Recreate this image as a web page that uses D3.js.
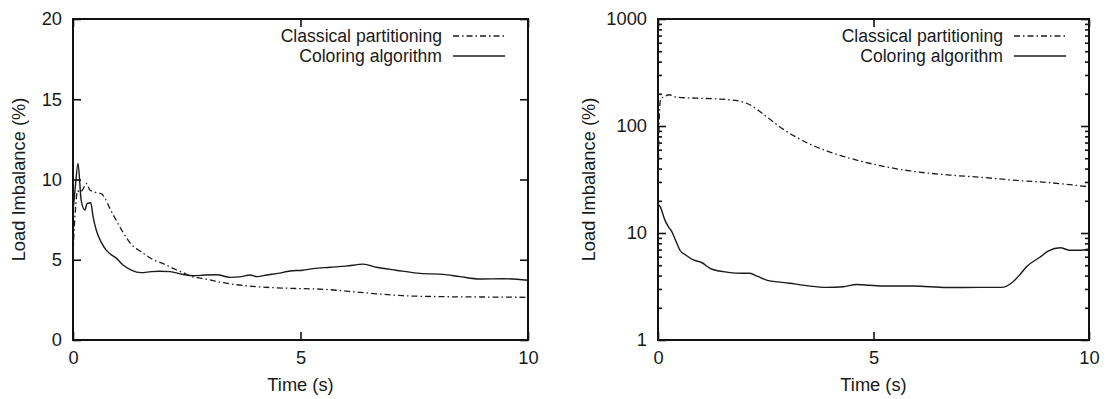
<!DOCTYPE html>
<html>
<head>
<meta charset="utf-8">
<script src="https://cdn.jsdelivr.net/npm/d3@7"></script>
<style>
  html, body { margin: 0; padding: 0; background: #fff; }
  svg { display: block; }
  text { font-family: "Liberation Sans", Arial, Helvetica, sans-serif; fill: #1a1a1a; }
</style>
</head>
<body>
<svg id="chart" width="1107" height="399"></svg>
<script>
// Left panel: linear load imbalance (%) over time (s)
const leftColoringTime = [0, 0.05, 0.11, 0.18, 0.26, 0.31, 0.39, 0.44, 0.51, 0.62, 0.73, 0.8, 0.95, 1.1, 1.28, 1.5, 1.72, 1.9, 2.13, 2.4, 2.64, 2.9, 3.16, 3.45, 3.7, 3.89, 4.05, 4.26, 4.5, 4.77, 5.05, 5.28, 5.65, 6.0, 6.38, 6.67, 7.1, 7.63, 8.14, 8.5, 8.95, 9.46, 10];
const leftColoring     = [8.0, 9.5, 11.0, 8.7, 8.1, 8.5, 8.55, 7.7, 6.85, 6.1, 5.6, 5.4, 5.1, 4.67, 4.36, 4.2, 4.26, 4.28, 4.26, 4.1, 4.0, 4.05, 4.07, 3.9, 3.95, 4.05, 3.95, 4.05, 4.15, 4.3, 4.35, 4.45, 4.53, 4.6, 4.73, 4.53, 4.35, 4.15, 4.09, 3.95, 3.8, 3.82, 3.72];
const leftClassicalTime = [0, 0.05, 0.1, 0.15, 0.22, 0.29, 0.37, 0.5, 0.63, 0.7, 0.81, 0.96, 1.08, 1.18, 1.3, 1.47, 1.65, 1.76, 1.9, 2.1, 2.28, 2.42, 2.57, 2.8, 3.01, 3.25, 3.52, 4.04, 4.77, 5.5, 6.38, 7.26, 8.14, 9.0, 10];
const leftClassical     = [5.4, 8.0, 9.3, 9.2, 9.4, 9.76, 9.35, 9.2, 9.1, 8.85, 8.2, 7.4, 6.8, 6.35, 5.9, 5.55, 5.2, 5.0, 4.85, 4.6, 4.36, 4.2, 4.0, 3.85, 3.74, 3.6, 3.47, 3.32, 3.22, 3.16, 2.95, 2.76, 2.7, 2.68, 2.66];

// Right panel: logarithmic load imbalance (%) over time (s)
const rightColoringTime = [0, 0.05, 0.16, 0.25, 0.32, 0.41, 0.51, 0.65, 0.82, 1.01, 1.21, 1.52, 1.8, 2.13, 2.3, 2.52, 3.06, 3.45, 3.91, 4.3, 4.61, 4.9, 5.15, 5.92, 6.7, 7.47, 7.97, 8.21, 8.4, 8.55, 8.86, 9.06, 9.33, 9.56, 9.79, 10];
const rightColoring     = [18.5, 17.6, 13.2, 11.3, 10.3, 8.5, 6.9, 6.2, 5.6, 5.3, 4.68, 4.35, 4.22, 4.2, 3.95, 3.63, 3.39, 3.22, 3.1, 3.15, 3.3, 3.25, 3.2, 3.2, 3.09, 3.1, 3.1, 3.43, 4.1, 4.84, 5.93, 6.79, 7.28, 6.9, 6.9, 7.1];
const rightClassicalTime = [0, 0.03, 0.06, 0.15, 0.26, 0.43, 0.9, 1.36, 1.86, 2.13, 2.52, 2.91, 3.45, 3.99, 4.61, 5.23, 5.85, 6.77, 7.55, 8.32, 9.1, 10];
const rightClassical     = [20, 120, 178, 188, 196, 186, 182, 179, 172, 158, 122, 93, 70, 57, 48, 42, 38, 34.8, 33, 31, 29.5, 27];

// Axis ticks and legend labels
const timeTicks = [0, 5, 10];
const linearTicks = [0, 5, 10, 15, 20];
const logMajorTicks = [1, 10, 100, 1000];
const logMinorFactors = [2, 3, 4, 5, 6, 7, 8, 9];
const seriesNames = ["Classical partitioning", "Coloring algorithm"];
const xLabel = "Time (s)";
const yLabel = "Load Imbalance (%)";

const svg = d3.select("#chart");
const plotTop = 19, plotBottom = 340;
const dashStyle = "6,3,1.5,3";
const fontSize = "18.3px";
const legendFontSize = "17.6px";

function zip(ts, vs) { return ts.map((t, i) => [t, vs[i]]); }

function drawPanel(opts) {
  const { left, right, yScale, yTicks, minorTicks, labelX, classical, coloring, id } = opts;
  const x = d3.scaleLinear().domain([0, 10]).range([left, right]);
  const y = yScale.range([plotBottom, plotTop]);
  const g = svg.append("g");

  g.append("clipPath").attr("id", id).append("rect")
    .attr("x", left).attr("y", plotTop).attr("width", right - left).attr("height", plotBottom - plotTop);

  const fmt = d3.format("d");

  const yAxisL = d3.axisLeft(y).tickValues(yTicks).tickSize(-8).tickPadding(11).tickFormat(fmt);
  const yAxisR = d3.axisRight(y).tickValues(yTicks).tickSize(-8).tickFormat("");
  const xAxisB = d3.axisBottom(x).tickValues(timeTicks).tickSize(-8).tickPadding(11).tickFormat(fmt);
  const xAxisT = d3.axisTop(x).tickValues(timeTicks).tickSize(-8).tickFormat("");

  const styleAxis = sel => {
    sel.select(".domain").remove();
    sel.selectAll(".tick line").attr("stroke", "#111").attr("stroke-width", 1.6);
    sel.selectAll(".tick text").style("font-size", fontSize).attr("fill", "#1a1a1a")
      .style("font-family", "'Liberation Sans', Arial, sans-serif");
  };

  g.append("g").attr("transform", `translate(${left},0)`).call(yAxisL).call(styleAxis);
  g.append("g").attr("transform", `translate(${right},0)`).call(yAxisR).call(styleAxis);
  g.append("g").attr("transform", `translate(0,${plotBottom})`).call(xAxisB).call(styleAxis);
  g.append("g").attr("transform", `translate(0,${plotTop})`).call(xAxisT).call(styleAxis);

  if (minorTicks) {
    const minorL = d3.axisLeft(y).tickValues(minorTicks).tickSize(-4).tickFormat("");
    const minorR = d3.axisRight(y).tickValues(minorTicks).tickSize(-4).tickFormat("");
    g.append("g").attr("transform", `translate(${left},0)`).call(minorL).call(styleAxis);
    g.append("g").attr("transform", `translate(${right},0)`).call(minorR).call(styleAxis);
  }

  // frame
  g.append("rect").attr("x", left).attr("y", plotTop).attr("width", right - left).attr("height", plotBottom - plotTop)
    .attr("fill", "none").attr("stroke", "#111").attr("stroke-width", 2);

  const line = d3.line().x(d => x(d[0])).y(d => y(d[1])).curve(d3.curveMonotoneX);
  const plot = g.append("g").attr("clip-path", `url(#${id})`);
  plot.append("path").datum(classical).attr("d", line)
    .attr("fill", "none").attr("stroke", "#1a1a1a").attr("stroke-width", 1.3).attr("stroke-dasharray", dashStyle);
  plot.append("path").datum(coloring).attr("d", line)
    .attr("fill", "none").attr("stroke", "#1a1a1a").attr("stroke-width", 1.4);

  // axis titles
  g.append("text").attr("x", (left + right) / 2).attr("y", 391).attr("text-anchor", "middle")
    .style("font-size", fontSize).text(xLabel);
  g.append("text").attr("transform", `translate(${labelX},${(plotTop + plotBottom) / 2}) rotate(-90)`)
    .attr("text-anchor", "middle").attr("dy", "0.35em").style("font-size", fontSize).text(yLabel);

  // legend
  const sampleEnd = right - 23, sampleStart = sampleEnd - 52, textEnd = sampleStart - 11;
  const rows = [36, 56];
  seriesNames.forEach((name, i) => {
    g.append("text").attr("x", textEnd).attr("y", rows[i]).attr("dy", "0.35em")
      .attr("text-anchor", "end").style("font-size", legendFontSize).text(name);
    g.append("line").attr("x1", sampleStart).attr("x2", sampleEnd).attr("y1", rows[i]).attr("y2", rows[i])
      .attr("stroke", "#1a1a1a").attr("stroke-width", 1.3)
      .attr("stroke-dasharray", i === 0 ? dashStyle : null);
  });
}

drawPanel({
  id: "clipLeft", left: 73, right: 528, labelX: 19,
  yScale: d3.scaleLinear().domain([0, 20]), yTicks: linearTicks, minorTicks: null,
  classical: zip(leftClassicalTime, leftClassical), coloring: zip(leftColoringTime, leftColoring)
});

const logMinor = [];
[1, 10, 100].forEach(dec => logMinorFactors.forEach(f => logMinor.push(dec * f)));

drawPanel({
  id: "clipRight", left: 658, right: 1089, labelX: 589,
  yScale: d3.scaleLog().domain([1, 1000]), yTicks: logMajorTicks, minorTicks: logMinor,
  classical: zip(rightClassicalTime, rightClassical), coloring: zip(rightColoringTime, rightColoring)
});
</script>
</body>
</html>
